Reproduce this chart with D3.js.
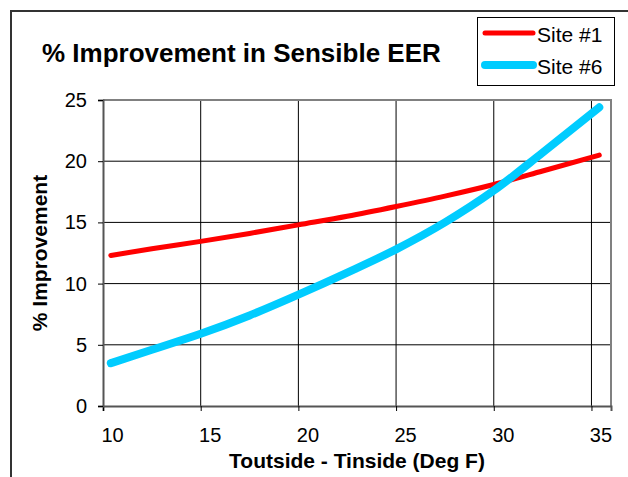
<!DOCTYPE html>
<html>
<head>
<meta charset="utf-8">
<script src="https://cdn.jsdelivr.net/npm/d3@7"></script>
<style>
  body { margin: 0; background: #fff; }
  text { font-family: "Liberation Sans", Arial, sans-serif; fill: #000; }
</style>
</head>
<body>
<div id="chart"></div>
<script>
// data
const xTicks = [10, 15, 20, 25, 30, 35];
const yTicks = [0, 5, 10, 15, 20, 25];
const deltaT = [10.4, 12.5, 15, 17.5, 20, 22.5, 25, 27.5, 30, 32.5, 35.4];
const site1 = [12.3, 12.85, 13.45, 14.1, 14.8, 15.5, 16.3, 17.15, 18.1, 19.2, 20.5];
const site6 = [3.5, 4.6, 5.9, 7.4, 9.1, 10.9, 12.8, 15.0, 17.6, 20.7, 24.4];
const seriesNames = ['Site #1', 'Site #6'];

const width = 628;
const height = 477;
const margin = { top: 100, right: 17, bottom: 71, left: 103 };

const svg = d3.select('#chart')
    .append('svg')
    .attr('width', width)
    .attr('height', height);

// outer chart frame (cropped at right/bottom)
svg.append('path')
    .attr('d', `M11,${height} V11 H${width}`)
    .attr('fill', 'none')
    .attr('stroke', '#333')
    .attr('stroke-width', 2);

const chartWidth = width - margin.left - margin.right;
const chartHeight = height - margin.top - margin.bottom;

const chart = svg.append('g')
    .attr('transform', `translate(${margin.left},${margin.top})`);

const xScale = d3.scaleLinear().domain([10, 36]).range([0, chartWidth]);
const yScale = d3.scaleLinear().domain([0, 25]).range([chartHeight, 0]);

// gridlines
chart.append('g')
    .selectAll('line')
    .data(yTicks.slice(1))
    .enter()
    .append('line')
    .attr('x1', 0).attr('x2', chartWidth)
    .attr('y1', d => yScale(d)).attr('y2', d => yScale(d))
    .attr('stroke', '#000').attr('stroke-width', 1);

chart.append('g')
    .selectAll('line')
    .data(xTicks.slice(1))
    .enter()
    .append('line')
    .attr('y1', 0).attr('y2', chartHeight)
    .attr('x1', d => xScale(d)).attr('x2', d => xScale(d))
    .attr('stroke', '#000').attr('stroke-width', 1);

// plot border (top/right gray)
chart.append('path')
    .attr('d', `M0,0 H${chartWidth} V${chartHeight}`)
    .attr('fill', 'none')
    .attr('stroke', '#808080')
    .attr('stroke-width', 2);

// axes
const xAxis = d3.axisBottom(xScale).tickValues(xTicks).tickSize(5).tickPadding(17);
chart.append('g')
    .classed('x axis', true)
    .attr('transform', `translate(0,${chartHeight})`)
    .call(xAxis);

const yAxis = d3.axisLeft(yScale).tickValues(yTicks).tickSize(5).tickPadding(11);
chart.append('g')
    .classed('y axis', true)
    .call(yAxis);

chart.selectAll('.axis .domain').attr('stroke', '#555').attr('stroke-width', 2);
chart.selectAll('.axis .tick line').attr('stroke', '#000');
chart.selectAll('.axis text')
    .style('font-size', '20px')
    .style('font-family', '"Liberation Sans", Arial, sans-serif');
chart.selectAll('.x.axis text').attr('dx', 9);

// lines
const line = vals => d3.line()
    .x((d, i) => xScale(deltaT[i]))
    .y(d => yScale(d))
    .curve(d3.curveMonotoneX)(vals);

chart.append('path')
    .attr('d', line(site1))
    .attr('fill', 'none')
    .attr('stroke', '#ff0000')
    .attr('stroke-width', 5)
    .attr('stroke-linecap', 'round');

chart.append('path')
    .attr('d', line(site6))
    .attr('fill', 'none')
    .attr('stroke', '#00ccff')
    .attr('stroke-width', 8)
    .attr('stroke-linecap', 'round');

// titles
svg.append('text')
    .attr('x', 42)
    .attr('y', 62)
    .style('font-size', '26px')
    .style('font-weight', 'bold')
    .text('% Improvement in Sensible EER');

svg.append('text')
    .attr('x', 357)
    .attr('y', 468)
    .style('font-size', '21px')
    .style('font-weight', 'bold')
    .style('text-anchor', 'middle')
    .text('Toutside - Tinside (Deg F)');

svg.append('text')
    .attr('transform', `translate(47, 253) rotate(-90)`)
    .style('font-size', '21px')
    .style('font-weight', 'bold')
    .style('text-anchor', 'middle')
    .text('% Improvement');

// legend
const legend = svg.append('g');
legend.append('rect')
    .attr('x', 477.5).attr('y', 17.5)
    .attr('width', 137).attr('height', 68)
    .attr('fill', '#fff')
    .attr('stroke', '#000')
    .attr('stroke-width', 1);

const legendColors = ['#ff0000', '#00ccff'];
const legendWidths = [5, 8];
seriesNames.forEach((name, i) => {
    const y = 33 + i * 32;
    legend.append('line')
        .attr('x1', 485).attr('x2', 533)
        .attr('y1', y).attr('y2', y)
        .attr('stroke', legendColors[i])
        .attr('stroke-width', legendWidths[i])
        .attr('stroke-linecap', 'round');
    legend.append('text')
        .attr('x', 537)
        .attr('y', y + 9)
        .style('font-size', '21px')
        .text(name);
});
</script>
</body>
</html>
